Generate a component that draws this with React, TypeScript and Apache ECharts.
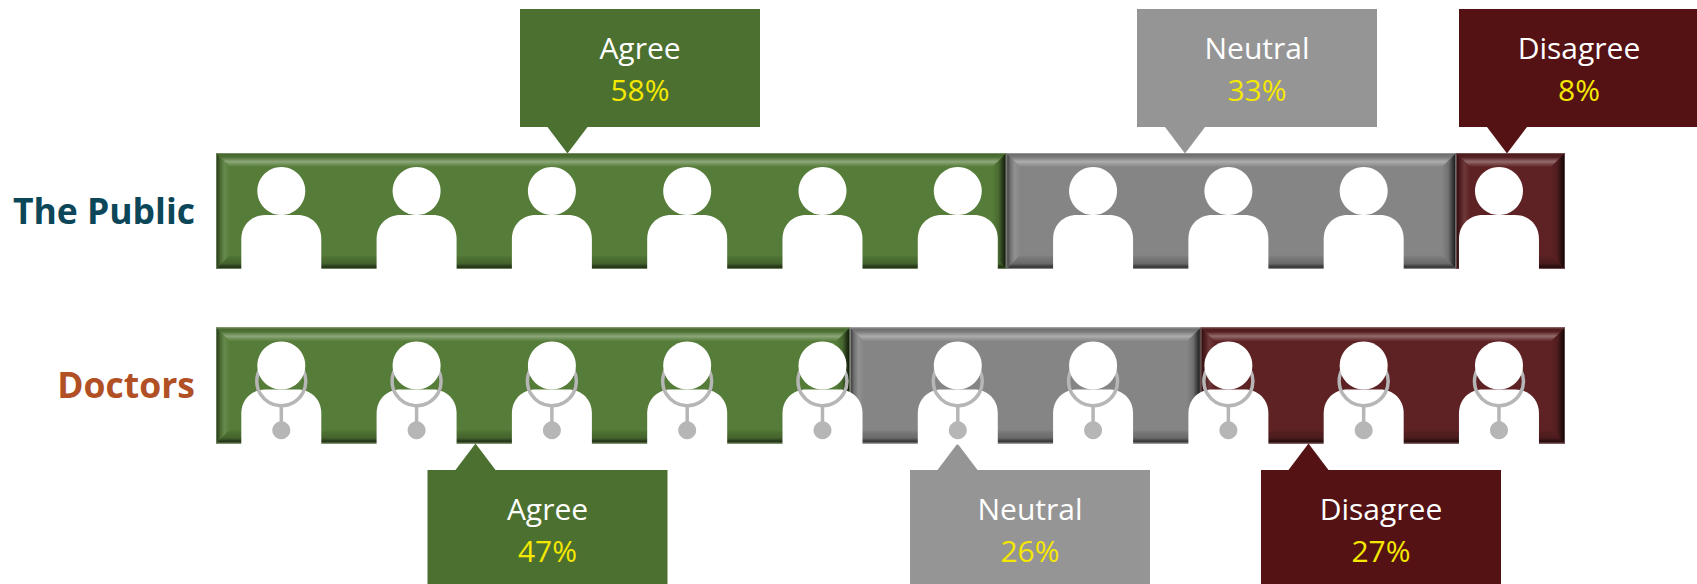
import React, { useEffect, useRef } from "react";
import * as echarts from "echarts";

// Survey shares, in percent, in stance order.
const stances = ["Agree", "Neutral", "Disagree"];
const publicShares = [58, 33, 8];
const doctorShares = [47, 26, 27];
const rowNames = ["The Public", "Doctors"];
const rowColors = ["#0c4759", "#b14f25"];
const iconSlots = [0, 1, 2, 3, 4, 5, 6, 7, 8, 9];

// Surface colour of each bar segment, and the flat colour of its callout.
const barTones = ["#557c38", "#858585", "#5e2224"];
const calloutTones = ["#4c7030", "#959595", "#541214"];

const FONT = "'Open Sans', 'Noto Sans', sans-serif";
const BAR_LEFT = 216;
const BAR_WIDTH = 1349;
const BAR_HEIGHT = 116;
const BAR_TOPS = [153, 327.5];
const BEVEL = 14;
const LABEL_LIFT = [2, 4];

// Horizontal placement of the callouts: box left edge and pointer tip.
const publicBoxLefts = [520, 1137, 1459];
const publicTips = [567.5, 1185, 1507];
const doctorBoxLefts = [427.5, 910, 1261];
const doctorTips = [475.5, 957.5, 1308.5];

const rgb = (hex: string) => [1, 3, 5].map((i) => parseInt(hex.slice(i, i + 2), 16));
const darken = (hex: string, f: number) => `rgb(${rgb(hex).map((c) => Math.round(c * f)).join(",")})`;
const lighten = (hex: string, f: number) =>
  `rgb(${rgb(hex).map((c) => Math.round(c + (255 - c) * f)).join(",")})`;

const gradient = (vertical: boolean, stops: [number, string][]) => ({
  type: "linear",
  x: 0,
  y: 0,
  x2: vertical ? 0 : 1,
  y2: vertical ? 1 : 0,
  colorStops: stops.map(([offset, color]) => ({ offset, color })),
});

// Running [start, end, tone] triples for one stacked row.
const toSegments = (shares: number[]) => {
  let run = 0;
  return shares.map((v, i) => {
    const seg = [run, run + v, i];
    run += v;
    return seg;
  });
};

// A segment with a bevelled frame: flat face plus four mitred gradient strips.
const renderSegment = (_: unknown, api: any) => {
  const [x0, y0] = api.coord([api.value(0), 0]);
  const [x1] = api.coord([api.value(1), 0]);
  const h = api.size([0, 1])[1];
  const top = y0 - h / 2;
  const bottom = top + h;
  const tone = barTones[api.value(2)];
  const b = BEVEL;
  const strip = (points: number[][], fill: unknown) => ({
    type: "polygon",
    shape: { points },
    style: { fill },
  });
  return {
    type: "group",
    children: [
      { type: "rect", shape: { x: x0, y: top, width: x1 - x0, height: h }, style: { fill: tone } },
      strip(
        [[x0, top], [x1, top], [x1 - b, top + b], [x0 + b, top + b]],
        gradient(true, [
          [0, darken(tone, 0.78)],
          [0.3, darken(tone, 0.92)],
          [0.62, lighten(tone, 0.33)],
          [0.85, lighten(tone, 0.12)],
          [1, tone],
        ]),
      ),
      strip(
        [[x0, top], [x0 + b, top + b], [x0 + b, bottom - b], [x0, bottom]],
        gradient(false, [
          [0, darken(tone, 0.4)],
          [0.3, darken(tone, 0.85)],
          [0.6, lighten(tone, 0.1)],
          [1, tone],
        ]),
      ),
      strip(
        [[x1, top], [x1 - b, top + b], [x1 - b, bottom - b], [x1, bottom]],
        gradient(false, [
          [0, tone],
          [0.45, darken(tone, 0.85)],
          [0.8, darken(tone, 0.38)],
          [1, darken(tone, 0.15)],
        ]),
      ),
      strip(
        [[x0, bottom], [x1, bottom], [x1 - b, bottom - b], [x0 + b, bottom - b]],
        gradient(true, [
          [0, tone],
          [0.2, darken(tone, 0.9)],
          [0.6, darken(tone, 0.8)],
          [0.85, darken(tone, 0.42)],
          [1, darken(tone, 0.6)],
        ]),
      ),
      {
        type: "rect",
        shape: { x: x0 + 0.5, y: top + 0.5, width: x1 - x0 - 1, height: h - 1 },
        style: { fill: "none", stroke: lighten(tone, 0.4), lineWidth: 1, opacity: 0.55 },
      },
    ],
  };
};

const BODY_PATH = "M0 55V24C0 10 10 0 24 0H56C70 0 80 10 80 24V55Z";

// The white figure standing on a bar; doctors also wear a stethoscope.
const renderFigure = (withStethoscope: boolean) => (_: unknown, api: any) => {
  const [cx, mid] = api.coord([api.value(0), 0]);
  const h = api.size([0, 1])[1];
  const top = mid - h / 2;
  const steth = "#b6b6b6";
  const children: any[] = [
    {
      type: "path",
      shape: { pathData: BODY_PATH, x: cx - 40, y: top + 62, width: 80, height: h - 61 },
      style: { fill: "#ffffff" },
    },
  ];
  if (withStethoscope) {
    children.push(
      {
        type: "circle",
        shape: { cx, cy: top + 53.7, r: 24.5 },
        style: { fill: "none", stroke: steth, lineWidth: 3.5 },
      },
      { type: "rect", shape: { x: cx - 1.75, y: top + 79, width: 3.5, height: 16 }, style: { fill: steth } },
      { type: "circle", shape: { cx, cy: top + 102.7, r: 9 }, style: { fill: steth } },
    );
  }
  children.push({ type: "circle", shape: { cx, cy: top + 38, r: 24 }, style: { fill: "#ffffff" } });
  return { type: "group", children };
};

// A flat box with a triangular pointer towards the bar, and its two text lines.
const callout = (
  stance: number,
  share: number,
  left: number,
  tip: number,
  boxTop: number,
  boxBottom: number,
  tipY: number,
  neckY: number,
  titleY: number,
  shareY: number,
) => {
  const fill = calloutTones[stance];
  const centre = left + 120;
  const text = (content: string, y: number, color: string) => ({
    type: "text",
    x: centre,
    y,
    style: {
      text: content,
      fill: color,
      font: `400 30px ${FONT}`,
      textAlign: "center",
      textVerticalAlign: "middle",
      verticalAlign: "middle",
    },
  });
  return [
    { type: "rect", shape: { x: left, y: boxTop, width: 240, height: boxBottom - boxTop }, style: { fill } },
    {
      type: "polygon",
      shape: { points: [[tip - 20, neckY], [tip + 20, neckY], [tip, tipY]] },
      style: { fill },
    },
    text(stances[stance], titleY, "#ffffff"),
    text(`${share}%`, shareY, "#f5e800"),
  ];
};

export default function App() {
  const ref = useRef<HTMLDivElement>(null);

  useEffect(() => {
    const chart = echarts.init(ref.current!, undefined, { renderer: "svg" });
    const grid = BAR_TOPS.map((top) => ({ left: BAR_LEFT, width: BAR_WIDTH, top, height: BAR_HEIGHT }));
    const hiddenAxis = { type: "value", show: false };
    const figureAxis = { ...hiddenAxis, min: -0.4826, max: 9.488 };

    chart.setOption({
      animation: false,
      backgroundColor: "#ffffff",
      grid,
      xAxis: [
        { ...hiddenAxis, gridIndex: 0, min: 0, max: publicShares.reduce((a, b) => a + b, 0) },
        { ...hiddenAxis, gridIndex: 1, min: 0, max: doctorShares.reduce((a, b) => a + b, 0) },
        { ...figureAxis, gridIndex: 0 },
        { ...figureAxis, gridIndex: 1 },
      ],
      yAxis: rowNames.map((name, i) => ({
        type: "category",
        gridIndex: i,
        data: [name],
        axisLine: { show: false },
        axisTick: { show: false },
        axisLabel: {
          margin: 21,
          formatter: (v: string) => `{row|${v}}`,
          rich: {
            row: {
              color: rowColors[i],
              fontFamily: FONT,
              fontWeight: 700,
              fontSize: 35.5,
              padding: [0, 0, LABEL_LIFT[i], 0],
            },
          },
        },
      })),
      series: [
        {
          type: "custom",
          xAxisIndex: 0,
          yAxisIndex: 0,
          data: toSegments(publicShares),
          renderItem: renderSegment,
          encode: { x: [0, 1] },
          z: 2,
        },
        {
          type: "custom",
          xAxisIndex: 1,
          yAxisIndex: 1,
          data: toSegments(doctorShares),
          renderItem: renderSegment,
          encode: { x: [0, 1] },
          z: 2,
        },
        {
          type: "custom",
          xAxisIndex: 2,
          yAxisIndex: 0,
          data: iconSlots.map((s) => [s]),
          renderItem: renderFigure(false),
          encode: { x: 0 },
          z: 3,
        },
        {
          type: "custom",
          xAxisIndex: 3,
          yAxisIndex: 1,
          data: iconSlots.map((s) => [s]),
          renderItem: renderFigure(true),
          encode: { x: 0 },
          z: 3,
        },
      ],
      graphic: {
        elements: [
          ...publicShares.flatMap((v, i) =>
            callout(i, v, publicBoxLefts[i], publicTips[i], 9, 127, BAR_TOPS[0] + 0.5, 127, 47.5, 89.5),
          ),
          ...doctorShares.flatMap((v, i) =>
            callout(i, v, doctorBoxLefts[i], doctorTips[i], 470, 584, BAR_TOPS[1] + BAR_HEIGHT, 470, 508, 550.5),
          ),
        ],
      },
    });

    return () => chart.dispose();
  }, []);

  return (
    <div
      ref={ref}
      style={{ position: "fixed", left: 0, top: 0, width: 1697, height: 584, overflow: "hidden" }}
    />
  );
}
